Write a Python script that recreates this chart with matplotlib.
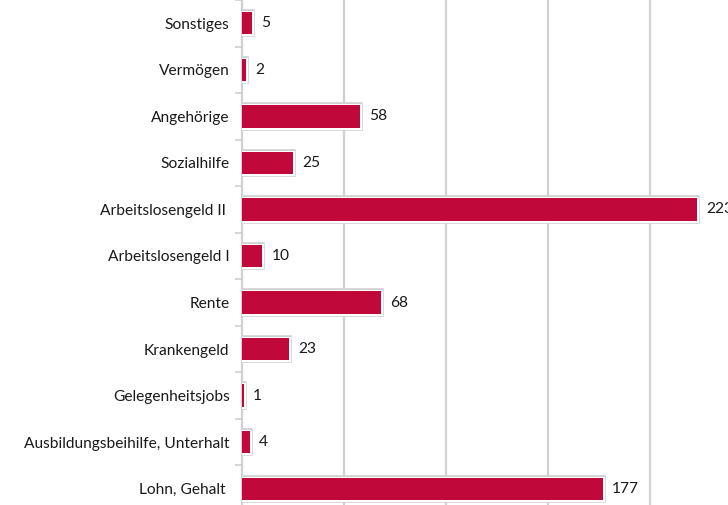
import matplotlib.pyplot as plt
import matplotlib.patheffects as pe
import numpy as np

categories = ['Sonstiges', 'Vermögen', 'Angehörige', 'Sozialhilfe', 'Arbeitslosengeld II ',
              'Arbeitslosengeld I', 'Rente', 'Krankengeld', 'Gelegenheitsjobs',
              'Ausbildungsbeihilfe, Unterhalt', 'Lohn, Gehalt ']
values = [5, 2, 58, 25, 223, 10, 68, 23, 1, 4, 177]

bar_color = '#C0083A'
grid_color = '#d0d0d0'

plt.rcParams['font.family'] = ['Lato', 'DejaVu Sans']

fig = plt.figure(figsize=(7.28, 5.05), dpi=100)
ax = fig.add_axes([242 / 728, -7 / 505, (728 - 242) / 728, 512 / 505])

y = np.arange(len(categories))
bars = ax.barh(y, values, height=0.48, color=bar_color, edgecolor='none', zorder=3)
for b in bars:
    b.set_path_effects([pe.Stroke(linewidth=4, foreground='#cfcfcf'),
                        pe.Stroke(linewidth=2.2, foreground='white'),
                        pe.Normal()])

for yi, v in zip(y, values):
    ax.text(v + 4.5, yi, str(v), va='center', ha='left', fontsize=11.2, color='#1a1a1a')

ax.set_ylim(len(categories) - 0.5, -0.5)
ax.set_xlim(0, (728 - 242) / 2.04)
ax.set_xticks([50, 100, 150, 200])
ax.xaxis.grid(True, color=grid_color, linewidth=1.6, zorder=0)
ax.tick_params(axis='x', length=0, labelbottom=False)

ax.set_yticks(y)
ax.set_yticklabels(categories, fontsize=11.2, color='#1a1a1a')
ax.tick_params(axis='y', length=0, pad=9)
ax.set_yticks(np.arange(len(categories) + 1) - 0.5, minor=True)
ax.tick_params(axis='y', which='minor', length=5, color=grid_color, width=1.2)

for side in ['top', 'right', 'bottom']:
    ax.spines[side].set_visible(False)
ax.spines['left'].set_color(grid_color)
ax.spines['left'].set_linewidth(1.6)

fig.savefig('out.png', dpi=100)
